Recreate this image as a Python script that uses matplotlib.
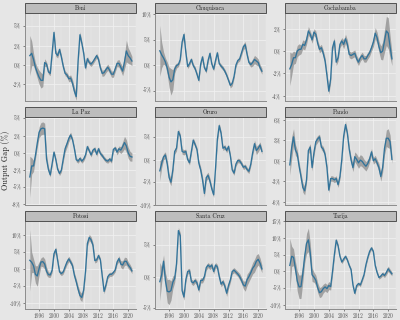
"""Output gap by department (Bolivia), 3x3 facet grid with confidence bands."""

import numpy as np
import matplotlib
matplotlib.use("Agg")
import matplotlib.pyplot as plt
from matplotlib.patches import Rectangle

# half-year observations, 1993.5 .. 2021.0
YEARS = np.arange(1993.5, 2021.01, 0.5)

DEPARTMENTS = ["Beni", "Chuquisaca", "Cochabamba",
               "La Paz", "Oruro", "Pando",
               "Potosí", "Santa Cruz", "Tarija"]

# point estimate of the output gap (%)
GAP = {
    "Beni": [
        1.2, 1.5, 0.7, -0.3, -1.0, -1.6, -2.0, -2.0, 0.3, 0.1,
        -0.9, -1.1, 1.5, 4.2, 1.5, 1.2, 2.0, 1.0, -0.2, -1.1,
        -1.3, -1.8, -1.7, -2.4, -3.4, -4.1, 0.5, 3.9, 2.8, 1.5,
        -0.4, 0.8, 0.3, 0.1, 0.4, 0.8, 1.2, 0.7, -0.4, -1.1,
        -1.0, -0.6, -0.3, -0.7, -1.2, -1.2, -0.5, 0.2, 0.2, -0.3,
        -0.8, 0.4, 1.8, 1.2, 0.9, 0.5],
    "Chuquisaca": [
        2.8, 2.0, 1.4, 0.6, -0.6, -2.4, -3.3, -2.9, -0.8, -0.1,
        0.1, 1.1, 4.5, 6.0, 2.5, -0.3, 0.3, 1.1, -0.1, -0.7,
        -1.8, -3.0, 0.2, 1.6, -0.5, -1.2, 0.9, 2.3, 0.2, -0.8,
        0.9, 2.4, 0.3, -0.2, -0.6, -1.2, -2.0, -3.0, -4.0, -3.6,
        -2.2, 0.0, 0.9, 1.2, 2.4, 3.6, 4.0, 2.1, 0.5, 0.1,
        0.5, 1.1, 0.8, 0.5, -0.5, -1.2],
    "Cochabamba": [
        -1.6, -1.2, -0.6, -0.6, 0.0, 0.15, 0.15, 0.6, 0.5, 1.0,
        1.8, 1.5, 1.0, 1.7, 1.5, 0.7, 0.15, 0.3, -0.2, -0.9,
        -2.2, -3.6, -2.5, 0.3, 0.9, -1.0, -0.6, 0.6, 0.9, 0.6,
        1.1, 0.6, -0.3, -0.4, -0.3, -0.2, -0.7, -1.0, -0.6, -0.4,
        -0.7, -0.7, -0.4, -0.15, 0.3, 0.8, 1.6, 1.2, 0.4, -0.15,
        0.0, 0.9, 1.8, 1.6, 0.4, -0.7],
    "La Paz": [
        -3.5, -1.9, -1.9, -0.4, 1.4, 3.0, 3.5, 3.6, 3.5, -0.9,
        -2.4, -3.2, -1.6, 0.1, -1.0, -2.4, -3.0, -2.5, -0.9, 0.6,
        1.3, 2.1, 2.6, 1.9, 0.6, -1.0, -1.2, -0.8, -1.2, -0.9,
        -0.3, 0.9, 0.3, -0.3, 0.4, 0.6, -0.2, 0.6, -0.1, -0.4,
        -0.8, -1.1, -1.2, -0.9, -1.2, 0.5, 0.7, 0.1, 0.6, 0.4,
        0.9, 1.5, 1.0, 0.0, -0.5, -0.6],
    "Oruro": [
        -2.5, -0.8, 0.6, 1.0, -1.0, -4.0, -5.0, -2.3, 1.8, 2.5,
        6.2, 5.2, 1.8, 1.6, 1.8, 0.0, -0.7, 1.8, 4.3, 3.3,
        2.2, -0.8, -2.3, -4.5, -7.5, -4.0, -3.5, -4.8, -6.5, -7.8,
        -2.0, 4.5, 7.5, 5.8, 2.5, 2.8, 2.0, 2.9, 0.8, -2.3,
        -3.0, -1.0, -0.2, -0.3, -0.9, -1.7, -1.5, -2.2, -2.6, -1.0,
        1.5, 3.5, 2.0, 2.5, 3.2, 1.8],
    "Pando": [
        -0.6, 1.9, 3.5, 1.6, 1.0, -0.8, -2.3, -3.9, -4.4, -2.8,
        1.5, 2.0, -1.0, 1.2, 2.8, 3.2, 3.5, 2.0, 1.7, 0.9,
        -1.0, -4.3, -2.6, -2.6, -2.8, -2.6, -3.5, -2.3, 0.2, 3.6,
        5.3, 4.0, 1.7, 0.1, -1.0, 0.6, 0.2, -0.3, 0.1, -0.1,
        -0.5, -0.8, -0.4, 0.3, 1.3, 0.0, 0.3, -0.3, -1.0, -2.3,
        -1.0, 1.8, 3.3, 3.3, 2.8, 0.2],
    "Potosí": [
        2.6, 2.0, 1.0, -1.5, -2.0, 0.2, 2.1, 2.2, 1.5, -0.6,
        -1.6, -1.7, -0.3, 4.5, 5.8, 2.5, -0.8, -1.3, -0.8, 0.7,
        2.1, 3.0, 2.1, 1.0, -1.8, -3.7, -5.9, -7.7, -8.3, -6.1,
        -0.6, 7.5, 9.3, 8.6, 7.0, 2.5, 2.7, 4.0, 2.7, -2.0,
        -6.5, -4.6, -2.2, -1.5, -1.5, -1.0, -0.2, 2.1, 3.1, 1.5,
        1.2, 2.3, 2.3, 1.2, 0.5, -0.5],
    "Santa Cruz": [
        -0.8, 0.3, 2.4, -0.6, -2.3, -2.4, -2.2, -0.9, -0.3, 2.0,
        7.2, 6.4, -2.2, -3.2, -0.5, 0.8, 0.9, -0.8, -1.0, -0.6,
        -1.0, -2.1, -0.6, -0.6, 0.0, 1.4, 1.8, 1.5, 1.8, 0.8,
        1.8, 1.5, 0.0, -1.2, -0.8, -1.5, -2.6, -1.4, -0.5, 0.8,
        1.0, 0.7, 0.4, 0.0, -0.6, -1.3, -1.5, -0.5, 0.0, 0.6,
        1.3, 1.7, 2.4, 2.7, 2.1, 1.2],
    "Tarija": [
        1.8, 4.5, 4.2, 1.0, -2.8, -4.6, -4.5, -0.6, 4.5, 8.3,
        9.4, 5.5, -1.0, -1.7, -2.6, -4.8, -6.3, -6.0, -5.1, -4.6,
        -5.1, -4.2, -4.5, 0.0, 5.0, 9.3, 7.6, 4.5, 2.8, 3.7,
        4.5, 3.4, 1.8, 0.5, -4.0, -6.5, -4.2, -3.6, -4.0, -2.5,
        -0.9, 2.0, 4.2, 6.0, 7.0, 5.9, 1.8, -0.3, -1.8, -1.4,
        -0.7, -1.2, -0.3, 0.8, 0.0, -0.7],
}

# half-width of the confidence band (%)
BAND = {
    "Beni": [
        2.6, 1.6, 0.8, 0.6, 0.7, 0.9, 1.0, 0.8, 0.5, 0.3,
        0.3, 0.3, 0.4, 0.4, 0.4, 0.3, 0.3, 0.3, 0.3, 0.3,
        0.3, 0.4, 0.4, 0.5, 0.5, 0.5, 0.4, 0.4, 0.3, 0.3,
        0.3, 0.3, 0.3, 0.3, 0.3, 0.3, 0.3, 0.3, 0.3, 0.4,
        0.4, 0.4, 0.4, 0.4, 0.4, 0.4, 0.4, 0.4, 0.5, 0.5,
        0.6, 0.9, 1.4, 1.0, 0.8, 0.6],
    "Chuquisaca": [
        5.0, 2.5, 1.2, 0.8, 1.2, 2.0, 2.6, 2.0, 0.8, 0.5,
        0.4, 0.4, 0.5, 0.6, 0.5, 0.4, 0.4, 0.4, 0.4, 0.4,
        0.4, 0.4, 0.4, 0.4, 0.4, 0.4, 0.4, 0.4, 0.4, 0.4,
        0.4, 0.4, 0.4, 0.4, 0.4, 0.4, 0.4, 0.4, 0.5, 0.5,
        0.4, 0.4, 0.4, 0.4, 0.5, 0.6, 0.6, 0.5, 0.4, 0.5,
        0.7, 0.8, 0.8, 0.7, 0.6, 0.6],
    "Cochabamba": [
        1.5, 1.0, 0.6, 0.5, 0.5, 0.5, 0.4, 0.4, 0.4, 0.4,
        0.4, 0.3, 0.3, 0.3, 0.3, 0.3, 0.3, 0.3, 0.3, 0.3,
        0.3, 0.3, 0.3, 0.3, 0.3, 0.3, 0.3, 0.3, 0.3, 0.4,
        0.4, 0.4, 0.3, 0.3, 0.3, 0.3, 0.3, 0.3, 0.3, 0.3,
        0.3, 0.3, 0.3, 0.3, 0.3, 0.4, 0.5, 0.5, 0.5, 0.6,
        0.8, 1.0, 1.3, 1.4, 1.0, 0.6],
    "La Paz": [
        3.0, 1.2, 0.8, 0.5, 0.6, 0.8, 0.9, 0.9, 0.8, 0.7,
        0.4, 0.3, 0.3, 0.3, 0.3, 0.3, 0.3, 0.3, 0.4, 0.5,
        0.5, 0.5, 0.4, 0.3, 0.3, 0.3, 0.3, 0.3, 0.3, 0.3,
        0.3, 0.3, 0.3, 0.3, 0.3, 0.3, 0.3, 0.3, 0.3, 0.3,
        0.3, 0.3, 0.3, 0.3, 0.3, 0.3, 0.3, 0.4, 0.4, 0.5,
        0.7, 0.9, 0.9, 0.8, 0.7, 0.6],
    "Oruro": [
        2.2, 1.0, 0.7, 0.7, 0.8, 0.9, 0.8, 0.7, 0.6, 0.6,
        0.6, 0.5, 0.6, 0.6, 0.5, 0.5, 0.5, 0.5, 0.5, 0.5,
        0.5, 0.6, 0.7, 0.8, 0.8, 0.7, 0.7, 0.7, 0.6, 0.6,
        0.6, 0.6, 0.6, 0.5, 0.5, 0.5, 0.5, 0.5, 0.5, 0.5,
        0.5, 0.5, 0.5, 0.5, 0.5, 0.5, 0.5, 0.5, 0.5, 0.5,
        0.6, 0.8, 0.9, 0.8, 0.7, 0.6],
    "Pando": [
        1.5, 1.6, 1.2, 0.8, 0.6, 0.6, 0.6, 0.7, 0.6, 0.5,
        0.5, 0.5, 0.5, 0.5, 0.5, 0.5, 0.4, 0.4, 0.4, 0.4,
        0.4, 0.4, 0.4, 0.4, 0.4, 0.4, 0.4, 0.4, 0.4, 0.4,
        0.5, 0.4, 0.4, 0.5, 0.6, 0.7, 0.8, 0.8, 0.8, 0.8,
        0.7, 0.7, 0.6, 0.5, 0.5, 0.5, 0.5, 0.5, 0.6, 0.7,
        0.7, 0.9, 1.2, 1.4, 1.0, 0.6],
    "Potosí": [
        9.0, 3.0, 2.0, 2.5, 3.0, 2.0, 1.2, 1.5, 1.5, 1.2,
        0.8, 0.7, 0.7, 0.8, 0.7, 0.6, 0.6, 0.6, 0.6, 0.7,
        0.8, 0.8, 0.7, 0.7, 0.8, 0.9, 1.0, 1.2, 1.2, 1.0,
        0.8, 0.8, 0.9, 0.9, 0.8, 0.7, 0.6, 0.6, 0.6, 0.7,
        0.7, 0.6, 0.6, 0.6, 0.6, 0.6, 0.6, 0.7, 0.8, 1.0,
        1.2, 1.2, 1.1, 1.0, 0.9, 0.8],
    "Santa Cruz": [
        3.0, 1.2, 1.0, 1.2, 1.8, 2.0, 1.5, 1.0, 0.6, 0.5,
        0.5, 0.5, 0.5, 0.5, 0.4, 0.4, 0.4, 0.4, 0.4, 0.4,
        0.4, 0.4, 0.4, 0.4, 0.4, 0.4, 0.4, 0.4, 0.4, 0.4,
        0.4, 0.4, 0.4, 0.4, 0.4, 0.4, 0.5, 0.5, 0.4, 0.4,
        0.4, 0.4, 0.4, 0.5, 0.5, 0.6, 0.8, 0.9, 0.8, 0.8,
        0.9, 1.0, 1.0, 0.9, 0.8, 0.6],
    "Tarija": [
        8.0, 3.0, 2.5, 2.0, 3.0, 3.5, 3.5, 2.5, 2.0, 3.0,
        3.5, 3.0, 2.0, 1.5, 1.5, 1.5, 1.5, 1.5, 1.3, 1.2,
        1.2, 1.2, 1.0, 1.0, 0.8, 0.6, 0.6, 0.5, 0.5, 0.5,
        0.5, 0.5, 0.5, 0.5, 0.5, 0.5, 0.5, 0.5, 0.5, 0.5,
        0.5, 0.5, 0.5, 0.5, 0.5, 0.5, 0.5, 0.5, 0.5, 0.5,
        0.6, 0.6, 0.7, 0.8, 0.7, 0.6],
}

# y breaks and their (rounded) labels, as printed in the original
Y_TICKS = {
    "Beni": ([5, 2.5, 0, -2.5], ["5%", "2%", "0%", "-2%"]),
    "Chuquisaca": ([10, 5, 0, -5], ["10%", "5%", "0%", "-5%"]),
    "Cochabamba": ([2, 0, -2, -4], ["2%", "0%", "-2%", "-4%"]),
    "La Paz": ([5, 2.5, 0, -2.5, -5, -7.5],
               ["5%", "2%", "0%", "-2%", "-5%", "-8%"]),
    "Oruro": ([5, 0, -5, -10], ["5%", "0%", "-5%", "-10%"]),
    "Pando": ([6, 3, 0, -3, -6], ["6%", "3%", "0%", "-3%", "-6%"]),
    "Potosí": ([10, 5, 0, -5, -10], ["10%", "5%", "0%", "-5%", "-10%"]),
    "Santa Cruz": ([5, 0, -5], ["5%", "0%", "-5%"]),
    "Tarija": ([15, 10, 5, 0, -5, -10],
               ["15%", "10%", "5%", "0%", "-5%", "-10%"]),
}

Y_LIMITS = {
    "Beni": (-4.7, 6.7), "Chuquisaca": (-7.1, 10.2), "Cochabamba": (-4.5, 3.4),
    "La Paz": (-7.6, 5.2), "Oruro": (-10.1, 9.4), "Pando": (-6.5, 6.4),
    "Potosí": (-11.7, 14.1), "Santa Cruz": (-5.1, 8.7), "Tarija": (-11.2, 15.0),
}

X_TICKS = [1996, 2000, 2004, 2008, 2012, 2016, 2020]

LINE_COLOR = "#31739A"
BAND_COLOR = "#8C8C8C"


def main() -> None:
    plt.rcParams["font.family"] = ["cmr10", "DejaVu Serif"]
    plt.rcParams["axes.unicode_minus"] = False

    fig, axes = plt.subplots(3, 3, figsize=(4.0, 3.2), dpi=100)
    fig.patch.set_facecolor("#E6E6E6")
    fig.subplots_adjust(left=0.0625, right=0.99, top=0.959, bottom=0.034,
                        wspace=0.171, hspace=0.18)

    strip_h = 10 / 88
    for ax, name in zip(axes.flat, DEPARTMENTS):
        y = np.array(GAP[name])
        hw = np.array(BAND[name])
        ax.set_facecolor("#DFDFDF")
        ax.fill_between(YEARS, y - hw, y + hw, color=BAND_COLOR, alpha=0.75,
                        lw=0, zorder=2)
        ax.plot(YEARS, y, color=LINE_COLOR, lw=0.95, zorder=3)

        ax.set_xlim(1992.2, 2022.1)
        ax.set_ylim(*Y_LIMITS[name])
        ticks, labels = Y_TICKS[name]
        ax.set_yticks(ticks)
        ax.set_yticklabels(labels)
        ax.set_xticks(X_TICKS)
        ax.set_xticks([1994, 1998, 2002, 2006, 2010, 2014, 2018, 2022], minor=True)
        ax.grid(True, which="major", color="#F0F0F0", lw=0.55, zorder=0)
        ax.grid(True, which="minor", axis="x", color="#E9E9E9", lw=0.35, zorder=0)
        ax.set_axisbelow(True)

        for side in ("top", "right"):
            ax.spines[side].set_visible(False)
        for side in ("left", "bottom"):
            ax.spines[side].set_color("#8C8C8C")
            ax.spines[side].set_linewidth(0.7)
        ax.tick_params(axis="both", which="major", labelsize=3.9, length=1.5,
                       width=0.5, pad=1.2, colors="#555555", labelcolor="#4D4D4D")
        ax.tick_params(axis="x", which="minor", length=0)

        if name not in ("Potosí", "Santa Cruz", "Tarija"):
            ax.tick_params(axis="x", labelbottom=False, length=0)

        ax.add_patch(Rectangle((0, 1), 1, strip_h, transform=ax.transAxes,
                               clip_on=False, facecolor="#BDBDBD",
                               edgecolor="#3D3D3D", lw=0.6, zorder=5))
        ax.text(0.5, 1 + strip_h / 2, name, transform=ax.transAxes,
                ha="center", va="center", fontsize=4.2, color="#1A1A1A",
                zorder=6)

    fig.text(0.014, 0.5, "Output Gap (%)", rotation=90, ha="center",
             va="center", fontsize=5.8, color="#1A1A1A")

    fig.savefig("out.png", dpi=100, facecolor=fig.get_facecolor())


if __name__ == "__main__":
    main()
